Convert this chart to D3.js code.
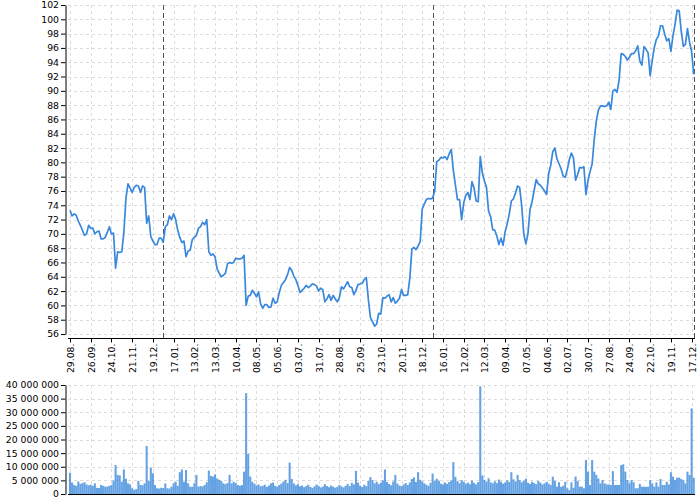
<!DOCTYPE html>
<html><head><meta charset="utf-8">
<script src="https://cdn.jsdelivr.net/npm/d3@7"></script>
<style>body{margin:0;background:#fff}svg{display:block;font-family:"DejaVu Sans",Verdana,sans-serif}</style>
</head><body><svg id="c" width="700" height="500"></svg>
<script>
// x tick labels, one every 10 samples (samples are every 2 trading days)
const tickLabels = ["29.08.","26.09.","24.10.","21.11.","19.12.","17.01.","13.02.","13.03.","10.04.","08.05.","05.06.","03.07.","31.07.","28.08.","25.09.","23.10.","20.11.","18.12.","16.01.","12.02.","12.03.","09.04.","07.05.","04.06.","02.07.","30.07.","27.08.","24.09.","22.10.","19.11.","17.12."];
// index of the first sample of each new year
const yearStarts = [45, 175];
const priceTicks = d3.range(56, 103, 2);
const volumeTicks = [0,5,10,15,20,25,30,35,40]; // millions
// close price
const price = [
73.3,72.5,72.8,72.6,71.8,71.2,70.5,69.8,70.0,71.2,
70.8,70.8,70.0,70.3,70.4,69.3,69.3,69.5,70.2,71.0,
70.0,70.1,65.2,67.5,67.4,67.5,70.2,75.0,77.0,76.4,
75.8,76.5,76.8,76.7,75.8,76.7,76.5,71.5,72.5,69.6,
69.0,68.5,68.5,69.4,69.4,68.8,71.0,71.3,72.5,72.0,
72.8,72.0,70.5,69.5,68.8,69.0,66.8,67.6,67.7,69.2,
69.5,69.8,70.8,71.0,71.6,71.3,72.0,67.5,67.0,67.2,
66.8,65.1,64.5,64.0,64.2,64.5,65.8,66.0,65.9,66.0,
66.6,66.5,66.5,66.6,67.0,60.0,61.3,61.4,62.1,61.7,
61.2,61.9,60.2,59.6,60.1,60.1,59.7,59.8,61.0,60.3,
60.5,61.8,62.8,63.2,63.6,64.3,65.3,64.9,64.1,63.6,
62.8,61.8,62.1,62.4,62.8,62.5,62.7,63.0,62.9,62.7,
62.0,62.4,62.2,60.5,60.9,61.5,60.7,61.4,60.9,60.5,
61.1,62.6,62.3,62.8,63.3,62.6,62.5,61.5,62.1,62.9,
63.0,63.1,63.6,63.9,60.8,58.3,57.7,57.1,57.4,58.9,
58.8,61.1,61.0,61.3,61.5,60.5,61.1,60.3,60.6,61.0,
62.2,61.4,61.4,61.5,63.8,67.9,68.1,67.8,68.3,68.9,
73.5,74.2,74.8,74.95,74.9,75.0,76.0,80.1,80.3,80.7,
80.6,80.8,80.4,81.2,81.8,78.9,76.8,74.8,74.8,72.0,
74.3,75.4,75.8,74.8,77.3,76.4,74.6,74.5,80.8,78.5,
77.4,76.5,73.2,72.4,70.6,70.5,69.7,68.5,69.4,68.4,
70.3,71.4,72.8,74.6,74.9,75.7,76.7,76.5,73.9,70.0,
68.6,70.0,73.4,74.5,76.1,77.6,77.0,76.8,76.4,76.0,
75.5,78.4,79.6,81.5,82.0,80.5,79.8,79.1,78.1,77.9,
79.0,80.4,81.3,80.6,77.5,78.3,79.3,79.2,79.4,75.5,
77.5,78.7,79.8,83.2,85.8,87.3,87.9,87.9,87.8,87.9,
88.4,87.4,90.0,90.2,89.8,91.5,95.2,95.1,94.8,94.3,
94.7,95.2,95.2,95.6,96.3,94.2,93.6,96.2,95.8,95.3,
92.1,94.3,96.1,97.2,97.7,99.1,99.1,97.9,97.0,97.3,
95.5,97.7,99.3,101.3,101.2,98.3,96.2,96.5,98.7,96.8,
95.5,92.3];
// volume, millions
const volume = [
7.8,4.2,3.3,3.0,4.6,3.7,4.0,4.3,3.5,3.2,
3.4,3.0,3.9,2.3,2.2,3.3,3.0,2.7,2.7,3.0,
3.3,5.0,10.6,7.0,6.8,4.5,9.0,5.6,3.9,3.5,
2.1,1.5,1.8,4.8,3.3,3.2,3.9,17.6,4.8,9.7,
7.6,3.3,2.1,2.0,2.3,2.2,3.9,2.1,2.0,2.7,
3.9,4.5,3.0,8.0,9.0,4.5,8.8,3.9,2.7,2.6,
3.9,7.0,2.7,2.9,2.8,3.3,4.3,8.6,6.6,6.4,
7.2,5.7,5.2,4.8,3.9,3.6,4.0,7.0,3.9,4.5,
4.0,3.3,3.0,3.3,8.2,37.0,14.7,6.4,4.5,3.8,
3.2,3.5,2.8,3.0,3.4,2.6,3.1,3.9,4.2,3.0,
2.7,3.3,3.8,4.6,5.2,4.0,11.5,5.5,3.9,3.2,
3.6,2.8,3.1,2.5,2.9,3.4,2.6,2.2,2.8,3.5,
3.0,2.4,2.7,3.6,2.9,2.5,3.1,2.7,2.3,2.6,
3.3,2.8,2.4,3.0,3.7,2.9,4.1,3.5,8.5,4.2,
3.1,2.6,3.4,2.9,4.8,6.2,5.1,3.9,4.5,3.6,
4.1,5.0,9.0,4.4,3.7,3.2,4.6,7.0,3.8,3.1,
2.9,3.5,4.0,3.3,4.2,5.5,6.1,4.4,8.0,5.2,
4.6,3.9,3.4,3.0,4.1,7.5,4.8,5.6,4.9,3.8,
3.5,4.2,3.7,4.4,5.0,11.7,6.3,4.7,4.0,5.1,
4.5,3.8,4.2,3.6,4.9,4.1,3.5,4.4,39.5,6.8,
5.2,4.6,5.8,4.3,3.9,4.7,4.0,5.3,4.5,3.8,
4.2,5.0,4.4,8.0,5.4,4.6,7.0,5.1,4.3,4.9,
5.6,4.1,3.7,4.5,4.0,3.6,4.8,4.2,3.5,3.9,
4.4,3.8,3.3,6.4,4.8,2.7,4.3,2.6,3.0,4.5,
2.1,1.5,4.3,2.3,6.4,4.8,2.7,2.7,2.1,12.5,
8.2,3.3,12.5,8.2,7.0,5.7,3.9,5.1,3.9,3.5,
3.5,3.3,8.4,3.3,3.3,3.3,10.6,10.9,8.2,5.1,
3.9,5.1,4.3,2.1,2.1,3.7,2.7,2.7,2.6,2.7,
5.1,3.9,2.7,4.3,2.7,5.5,3.3,3.3,4.5,3.5,
8.0,6.4,5.1,6.0,6.0,5.5,5.1,3.9,8.2,7.0,
31.4,6.0];

const svg = d3.select("#c");
const L = 68, R = 695;
const FS = 9.3;
const x = d3.scaleLinear().domain([0, price.length - 1]).range([70, 693.7]);
const yP = d3.scaleLinear().domain([56, 102]).range([334, 5]);
const yV = d3.scaleLinear().domain([0, 40]).range([494, 385]);
const tickIdx = tickLabels.map((d, i) => i * 10);
const gridC = "#dcdcdc";

function grid(yScale, yTicks, top, bottom) {
  const g = svg.append("g").attr("stroke", gridC).attr("stroke-dasharray", "3,3").attr("stroke-width", 1);
  g.selectAll(".h").data(yTicks).enter().append("line")
    .attr("x1", L).attr("x2", R)
    .attr("y1", d => Math.round(yScale(d)) + 0.5).attr("y2", d => Math.round(yScale(d)) + 0.5);
  g.selectAll(".v").data(tickIdx).enter().append("line")
    .attr("x1", d => Math.round(x(d)) + 0.5).attr("x2", d => Math.round(x(d)) + 0.5)
    .attr("y1", top).attr("y2", bottom);
}
grid(yP, priceTicks, 5, 334);
grid(yV, volumeTicks, 385, 494);

// year separators
svg.append("g").selectAll("line").data(yearStarts).enter().append("line")
  .attr("x1", d => Math.round(x(d)) + 0.5).attr("x2", d => Math.round(x(d)) + 0.5)
  .attr("y1", 5).attr("y2", 338)
  .attr("stroke", "#555").attr("stroke-dasharray", "5,3");
svg.append("line").attr("x1", R - 0.5).attr("x2", R - 0.5).attr("y1", 5).attr("y2", 338)
  .attr("stroke", "#555").attr("stroke-dasharray", "5,3");

// price line
svg.append("path").datum(price)
  .attr("fill", "none").attr("stroke", "#3a88dc").attr("stroke-width", 1.7)
  .attr("stroke-linejoin", "round")
  .attr("d", d3.line().x((d, i) => x(i)).y(d => yP(d)));

// volume bars
const bw = x(1) - x(0);
svg.append("g").selectAll("rect").data(volume).enter().append("rect")
  .attr("x", (d, i) => x(i) - bw / 2).attr("width", bw)
  .attr("y", d => yV(d)).attr("height", d => 494 - yV(d))
  .attr("fill", "#4a92de").attr("fill-opacity", 0.85);

// axes
svg.append("g").attr("transform", "translate(65.5,0)")
  .call(d3.axisLeft(yP).tickValues(priceTicks).tickSize(4.5).tickSizeOuter(0).tickPadding(2));
const fmtVol = v => d3.format(",")(v * 1e6).replace(/,/g, "\u00a0");
svg.append("g").attr("transform", "translate(65.5,0)")
  .call(d3.axisLeft(yV).tickValues(volumeTicks).tickSize(4.5).tickSizeOuter(0).tickPadding(2).tickFormat(fmtVol));
const xAxis = svg.append("g").attr("transform", "translate(0,338.5)")
  .call(d3.axisBottom(x).tickValues(tickIdx).tickSize(4).tickSizeOuter(0).tickFormat((d, i) => tickLabels[i]));
xAxis.select(".domain").remove();
xAxis.selectAll(".tick").attr("transform", d => `translate(${Math.round(x(d)) + 0.5},0)`);
xAxis.selectAll("text").attr("transform", "rotate(-90)").attr("text-anchor", "end")
  .attr("x", -5).attr("y", 0).attr("dy", "0.35em");
svg.append("line").attr("x1", L).attr("x2", R).attr("y1", 338.5).attr("y2", 338.5).attr("stroke", "#000");
svg.append("line").attr("x1", L).attr("x2", R).attr("y1", 494.5).attr("y2", 494.5).attr("stroke", "#000");
svg.selectAll(".tick text").attr("font-size", FS).attr("font-family", '"DejaVu Sans",Verdana,sans-serif').attr("fill", "#000");
svg.selectAll(".domain, .tick line").attr("stroke", "#000");
</script></body></html>
